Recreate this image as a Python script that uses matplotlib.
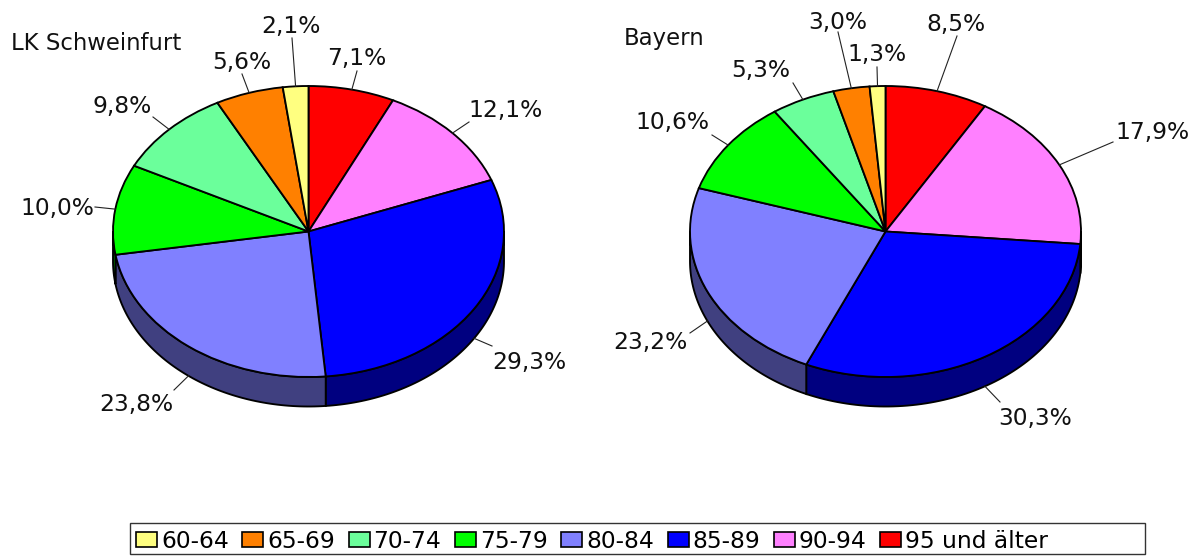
import numpy as np
import matplotlib
matplotlib.use('Agg')
import matplotlib.pyplot as plt
from matplotlib.patches import Patch, Rectangle

# Altersgruppen im Uhrzeigersinn ab 12 Uhr
ages = ['95 und älter', '90-94', '85-89', '80-84', '75-79', '70-74', '65-69', '60-64']
schweinfurt = [7.1, 12.1, 29.3, 23.8, 10.0, 9.8, 5.6, 2.1]
bayern = [8.5, 17.9, 30.3, 23.2, 10.6, 5.3, 3.0, 1.3]

colors = ['#FF0000', '#FF80FF', '#0000FF', '#8080FF', '#00FF00', '#6BFF9B', '#FF8000', '#FFFF80']
wall_colors = ['#800000', '#804080', '#000080', '#404080', '#008000', '#358050', '#804000', '#808040']

W, H = 1200, 556
RX, RY, DEPTH = 195.5, 145.5, 29.5
CY = 231.5
LABEL_SIZE = 16.8
TITLE_SIZE = 16.4
EDGE = 1.35
TEXT_SHIFT = -1.5

plt.rcParams['font.family'] = 'DejaVu Sans'
fig = plt.figure(figsize=(W / 100, H / 100), dpi=100)


def pie3d(values, cx):
    ax = fig.add_axes([0, 0, 1, 1])
    ax.pie(values, colors=colors, startangle=90, counterclock=False,
           wedgeprops={'edgecolor': 'black', 'linewidth': EDGE})
    ax.set_aspect('auto')
    # eine Dateneinheit = Radius in Pixeln
    ax.set_xlim(-cx / RX, (W - cx) / RX)
    ax.set_ylim((CY - H) / RY, CY / RY)
    ax.patch.set_alpha(0)

    # sichtbare Seitenwand (vordere Haelfte der Ellipse)
    d = DEPTH / RY
    edges = np.cumsum([0] + list(values)) / sum(values) * 360
    for i in range(len(values)):
        a0, a1 = max(edges[i], 90), min(edges[i + 1], 270)
        if a1 <= a0:
            continue
        t = np.radians(np.linspace(a0, a1, 80))
        x = np.sin(t)
        y = np.cos(t)
        ax.fill(np.r_[x, x[::-1]], np.r_[y, y[::-1] - d], facecolor=wall_colors[i],
                edgecolor='black', linewidth=EDGE, zorder=0)
    return edges


def labels(values, edges, cx, texts_pos, leader_ends):
    for i, v in enumerate(values):
        mid = np.radians((edges[i] + edges[i + 1]) / 2)
        x0 = cx + RX * np.sin(mid)
        y0 = CY - RY * np.cos(mid)
        if 90 < np.degrees(mid) < 270:
            y0 += DEPTH
        over.text(texts_pos[i][0], texts_pos[i][1] + TEXT_SHIFT, f'{v:.1f}%'.replace('.', ','),
                  ha='center', va='center_baseline', fontsize=LABEL_SIZE, color='#111111')
        xe, ye = leader_ends[i]
        over.plot([x0, xe], [y0, ye], color='#222222', linewidth=0.8)


edges_l = pie3d(schweinfurt, 308.5)
edges_r = pie3d(bayern, 885.5)

# Ebene in Pixelkoordinaten fuer Texte und Fuehrungslinien
over = fig.add_axes([0, 0, 1, 1])
over.set_xlim(0, W)
over.set_ylim(H, 0)
over.axis('off')

labels(schweinfurt, edges_l, 308.5,
       [(357, 58), (506, 110), (529, 362), (136, 403), (57, 208), (122, 106), (242, 62), (291, 26)],
       [(357, 71), (469, 122), (492, 346), (174, 390), (95, 207), (153, 117), (242, 74), (292, 38)])
labels(bayern, edges_r, 885.5,
       [(956, 24), (1152, 132), (1035, 417), (650, 342), (672, 122), (761, 70), (838, 21), (877, 54)],
       [(957, 36), (1113, 142), (1000, 402), (690, 333), (712, 135), (793, 83), (838, 32), (877, 67)])

over.text(11, 43 + TEXT_SHIFT, 'LK Schweinfurt', ha='left', va='center_baseline', fontsize=TITLE_SIZE, color='#111111')
over.text(624, 37 + TEXT_SHIFT, 'Bayern', ha='left', va='center_baseline', fontsize=TITLE_SIZE, color='#111111')

# Rahmen der Legende ist breiter als ihr Inhalt
over.add_patch(Rectangle((129.5, 522.5), 1015, 31, facecolor='white', edgecolor='#333333', linewidth=1.0))

# Legende von jung nach alt
handles = [Patch(facecolor=c, edgecolor='black', linewidth=1.2, label=a)
           for a, c in zip(ages[::-1], colors[::-1])]
over.legend(handles=handles, ncol=8, loc='center left', bbox_to_anchor=(136 / W, 1 - 541.5 / H),
            fontsize=LABEL_SIZE, frameon=False, handlelength=0.9, handleheight=0.6,
            handletextpad=0.17, columnspacing=0.58, borderpad=0, borderaxespad=0)

fig.savefig('out.png', dpi=100)
